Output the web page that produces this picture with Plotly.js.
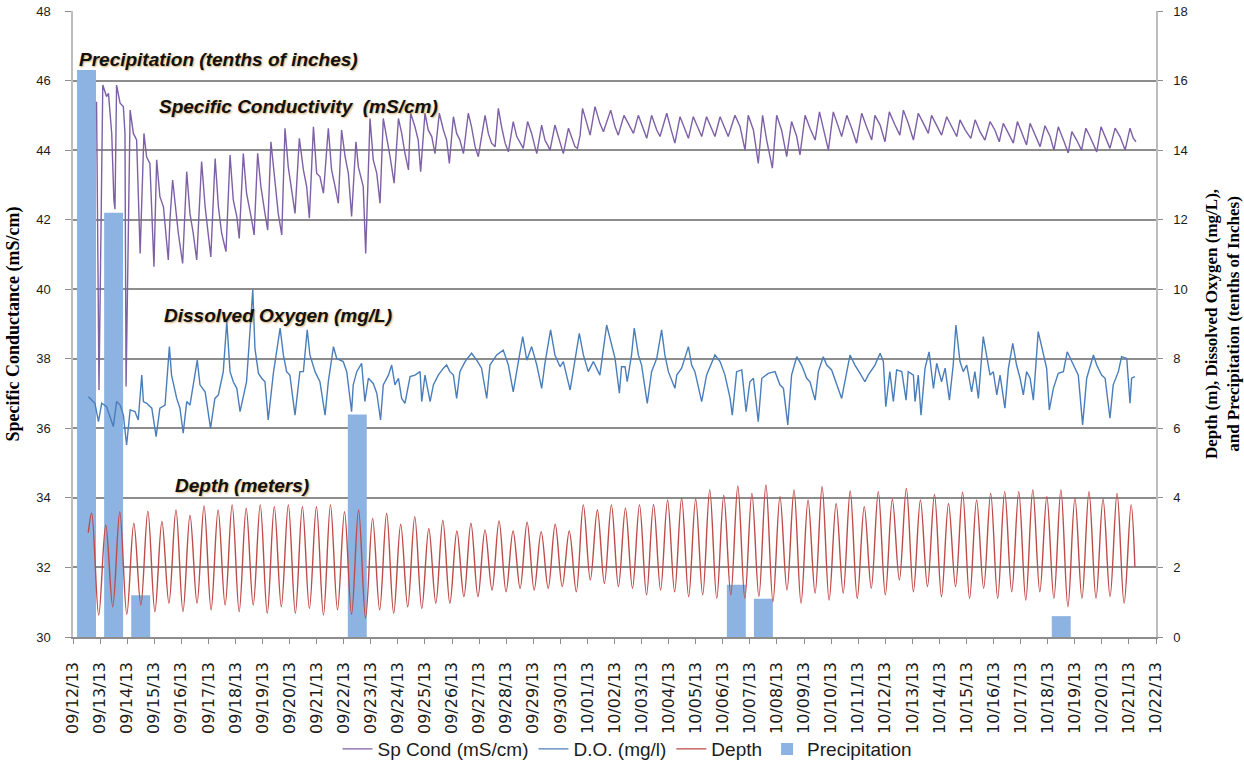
<!DOCTYPE html>
<html>
<head>
<meta charset="utf-8">
<script src="https://cdn.plot.ly/plotly-3.0.1.min.js"></script>
<style>
html,body{margin:0;padding:0;background:#ffffff;}
#chart{width:1244px;height:761px;}
</style>
</head>
<body>
<div id="chart"></div>
<script>
// ---------------- DATA ----------------
// Time origin of the record: 09/12/13 00:00; positions are given in days from it.
const recordStart = Date.UTC(2013, 8, 12);
const msPerDay = 86400000;
const axisDays = 40; // 09/12/13 .. 10/22/13

// Precipitation (tenths of inches), daily totals (plotted at noon of the day)
const precipDay = [0.5, 1.5, 2.5, 10.5, 24.5, 25.5, 36.5];
const precipVal = [16.3, 12.2, 1.2, 6.4, 1.5, 1.1, 0.6];

// Specific conductance (mS/cm) - left axis
const spDay = [
 0.87,0.91,0.96,1.10,1.24,1.31,1.43,1.51,1.55,1.61,
 1.74,1.86,1.92,1.96,2.11,2.23,2.35,2.48,2.62,2.72,
 2.84,2.99,3.09,3.21,3.34,3.52,3.58,3.68,3.77,3.89,
 4.05,4.20,4.32,4.44,4.57,4.75,4.88,5.00,5.09,5.25,
 5.37,5.49,5.65,5.80,5.92,6.05,6.14,6.29,6.41,6.60,
 6.69,6.82,6.94,7.09,7.19,7.31,7.44,7.58,7.71,7.83,
 7.95,8.11,8.20,8.36,8.51,8.63,8.73,8.88,9.00,9.12,
 9.25,9.43,9.55,9.68,9.80,9.92,10.05,10.17,10.29,10.45,
 10.54,10.72,10.81,10.97,11.09,11.22,11.34,11.46,11.59,11.71,
 11.86,12.02,12.14,12.26,12.39,12.47,12.63,12.75,12.84,13.00,
 13.12,13.25,13.37,13.53,13.68,13.80,13.90,14.05,14.17,14.29,
 14.42,14.60,14.72,14.85,14.97,15.22,15.34,15.46,15.59,15.71,
 15.83,15.96,16.08,16.26,16.39,16.51,16.63,16.79,16.94,17.06,
 17.13,17.31,17.43,17.56,17.62,17.80,17.93,18.05,18.11,18.30,
 18.42,18.54,18.63,18.73,18.82,18.97,19.10,19.28,19.46,19.59,
 19.86,20.02,20.14,20.35,20.57,20.70,20.88,21.07,21.19,21.37,
 21.56,21.68,21.93,22.11,22.23,22.42,22.60,22.73,22.91,23.10,
 23.22,23.40,23.59,23.71,23.90,24.08,24.20,24.45,24.64,24.82,
 24.94,25.13,25.31,25.47,25.62,25.83,25.99,26.17,26.36,26.54,
 26.73,26.85,27.04,27.22,27.41,27.57,27.71,27.90,28.08,28.27,
 28.39,28.58,28.76,28.94,29.13,29.31,29.50,29.62,29.81,29.99,
 30.15,30.36,30.54,30.67,30.85,31.04,31.22,31.41,31.59,31.71,
 31.90,32.08,32.27,32.45,32.64,32.76,32.95,33.16,33.32,33.50,
 33.68,33.87,34.05,34.21,34.36,34.55,34.73,34.88,35.04,35.22,
 35.35,35.53,35.72,35.90,36.09,36.23,36.39,36.58,36.76,36.89,
 37.07,37.25,37.41,37.56,37.81,37.97,38.12,38.30,38.49,38.67,
 38.86,39.04,39.16,39.26
];
const spCond = [
 45.39,42.28,37.1,45.87,45.54,45.63,44.48,42.57,42.3,45.87,
 45.35,45.25,44.48,37.2,45.15,44.48,44.29,41.03,44.48,43.8,
 43.62,40.65,43.72,42.66,42.37,40.84,41.99,43.14,42.47,41.61,
 40.74,43.38,42.18,41.61,40.84,43.67,42.37,41.61,40.93,43.76,
 42.37,41.61,41.08,43.86,42.57,42.09,41.46,43.9,42.76,41.99,
 41.56,43.91,42.95,42.18,41.7,44.24,43.14,42.18,41.56,44.63,
 43.52,42.57,42.18,44.34,43.43,42.95,42.04,44.67,43.33,43.24,
 42.76,44.63,43.43,42.95,42.47,44.58,43.81,43.33,42.09,44.24,
 43.52,42.95,41.03,44.91,43.72,43.33,42.47,44.91,44.39,43.81,
 43.05,44.91,44.48,43.91,43.43,45.06,44.67,44.29,43.38,45.06,
 44.58,44.39,43.9,45.06,44.58,44.29,43.62,44.96,44.48,44.29,
 43.9,45.06,44.67,44.1,43.81,45.0,44.48,44.2,44.1,45.2,
 44.67,44.2,43.95,44.82,44.39,44.2,44.05,44.82,44.48,44.1,
 43.9,44.72,44.29,44.1,44.0,44.72,44.39,44.05,43.9,44.63,
 44.39,44.1,44.05,44.43,45.2,44.77,44.43,45.25,44.77,44.53,
 45.15,44.67,44.43,45.0,44.67,44.48,45.0,44.62,44.34,45.0,
 44.58,44.39,45.06,44.53,44.2,44.96,44.58,44.34,44.96,44.58,
 44.39,44.96,44.62,44.39,44.96,44.62,44.39,45.0,44.67,44.0,
 45.0,44.58,43.62,45.0,44.29,43.48,45.0,44.58,43.81,44.82,
 44.39,43.86,45.0,44.63,44.29,45.1,44.63,44.0,45.1,44.67,
 44.39,45.0,44.63,44.2,45.06,44.67,44.29,45.0,44.72,44.24,
 45.1,44.72,44.43,45.15,44.77,44.29,45.06,44.77,44.48,45.0,
 44.72,44.43,44.96,44.67,44.39,44.87,44.58,44.34,44.87,44.53,
 44.29,44.82,44.58,44.24,44.77,44.48,44.2,44.82,44.48,44.15,
 44.77,44.43,44.1,44.7,44.39,44.0,44.67,44.29,43.92,44.53,
 44.29,44.0,44.63,44.39,43.95,44.67,44.39,44.05,44.63,44.39,
 44.0,44.63,44.34,44.24
];

// Dissolved oxygen (mg/L) - right axis
const doDay = [
 0.57,0.81,0.94,1.06,1.24,1.37,1.49,1.61,1.74,1.86,
 1.98,2.11,2.29,2.41,2.54,2.60,2.72,2.91,3.07,3.21,
 3.40,3.56,3.64,3.83,3.95,4.07,4.20,4.32,4.59,4.69,
 4.88,5.08,5.24,5.37,5.55,5.68,5.80,5.92,6.05,6.17,
 6.41,6.64,6.72,6.85,6.97,7.09,7.21,7.40,7.65,7.77,
 7.89,8.01,8.20,8.38,8.51,8.65,8.75,8.94,9.12,9.31,
 9.43,9.62,9.74,9.98,10.11,10.29,10.35,10.48,10.66,10.78,
 10.91,11.09,11.22,11.36,11.46,11.65,11.77,11.89,12.02,12.14,
 12.26,12.45,12.63,12.82,12.88,13.00,13.19,13.31,13.49,13.68,
 13.80,13.92,14.05,14.17,14.29,14.48,14.72,14.91,15.09,15.28,
 15.40,15.65,15.89,16.08,16.26,16.45,16.61,16.76,16.94,17.13,
 17.31,17.43,17.64,17.80,17.99,18.11,18.36,18.54,18.70,18.85,
 19.03,19.22,19.46,19.71,19.90,20.02,20.18,20.26,20.39,20.47,
 20.63,20.73,20.88,21.00,21.21,21.37,21.56,21.74,21.86,21.99,
 22.23,22.30,22.48,22.73,22.85,22.97,23.22,23.40,23.71,23.90,
 24.08,24.27,24.35,24.51,24.70,24.86,25.00,25.13,25.31,25.44,
 25.68,25.93,26.11,26.24,26.40,26.54,26.73,26.91,27.10,27.22,
 27.41,27.53,27.71,27.84,28.02,28.21,28.39,28.70,28.88,29.07,
 29.25,29.37,29.62,29.81,29.93,30.02,30.17,30.30,30.42,30.61,
 30.77,30.85,31.04,31.10,31.22,31.32,31.47,31.62,31.78,31.90,
 32.08,32.21,32.37,32.51,32.61,32.76,32.88,33.01,33.19,33.31,
 33.44,33.62,33.75,33.87,33.99,34.12,34.24,34.42,34.55,34.71,
 34.85,34.98,35.10,35.22,35.35,35.47,35.65,35.84,35.96,36.06,
 36.21,36.39,36.58,36.72,36.89,37.01,37.13,37.29,37.44,37.69,
 37.81,37.99,38.12,38.30,38.42,38.61,38.73,38.92,39.04,39.10,
 39.22
];
const doVal = [
 6.91,6.72,6.19,6.72,6.62,6.29,6.05,6.77,6.67,6.38,
 5.52,6.53,6.48,6.24,7.53,6.77,6.72,6.58,5.76,6.58,
 6.67,8.35,7.53,6.86,6.58,5.86,6.77,6.67,7.96,7.25,
 7.05,6.0,6.86,6.96,7.63,9.07,7.63,7.34,7.15,6.48,
 7.34,9.98,8.30,7.58,7.44,7.34,6.24,7.58,8.88,8.11,
 7.63,7.53,6.38,7.63,7.63,8.83,8.11,7.63,7.34,6.38,
 7.34,8.35,8.01,7.92,7.63,6.48,7.25,7.63,7.87,6.77,
 7.44,7.29,7.01,6.24,7.25,7.53,7.82,7.25,7.44,6.86,
 6.72,7.49,7.53,7.63,6.77,7.53,6.77,7.25,7.53,7.73,
 7.82,7.63,7.53,6.86,7.63,7.92,8.16,7.96,7.73,6.86,
 7.82,8.11,8.25,7.82,7.05,7.92,8.64,7.96,8.35,7.82,
 7.15,7.87,8.83,8.11,7.77,7.92,7.10,7.96,8.73,8.11,
 7.63,7.92,7.53,8.97,8.35,8.01,7.01,7.77,7.77,7.34,
 8.11,8.88,8.11,7.82,6.72,7.63,8.01,8.83,8.11,7.63,
 7.15,7.53,7.73,8.35,7.82,7.63,6.77,7.53,8.11,7.92,
 7.53,6.86,6.38,7.63,7.68,6.48,7.34,7.44,6.19,7.44,
 7.58,7.63,7.25,7.15,6.10,7.53,8.06,7.82,7.44,7.34,
 6.81,7.63,8.06,7.82,7.68,7.25,6.86,8.11,7.82,7.58,
 7.34,7.53,7.82,8.16,7.92,6.62,7.63,6.77,7.68,7.63,
 6.81,7.63,7.53,6.77,7.53,6.38,7.73,8.20,7.15,7.87,
 7.34,7.73,6.81,7.82,8.97,7.92,7.63,7.82,7.05,7.63,
 6.86,8.64,8.01,7.53,7.63,6.96,7.53,6.58,7.73,8.44,
 7.82,7.44,6.96,7.63,7.44,6.81,8.78,8.16,7.73,6.53,
 7.15,7.58,7.63,8.20,7.92,7.68,7.53,6.10,7.44,8.11,
 7.82,7.53,7.44,6.29,7.25,7.63,8.06,8.01,6.72,7.44,
 7.49
];

// Depth (m) - right axis: successive tidal highs and lows
const depthFirstDay = 0.565, depthFirst = 3.00;   // first logged reading
const depthLastDay = 39.22, depthLast = 2.02;     // last logged reading
const depthFirstHighDay = 0.69;                   // time of the first high
const depthHalfTideDays = 0.2594;                 // high-to-low interval (~6.2 h)
const depthHigh = [
 3.56,3.22,3.60,3.27,3.62,3.32,3.65,3.50,3.77,3.65,
 3.80,3.70,3.80,3.75,3.80,3.75,3.75,3.80,3.60,3.65,
 3.41,3.56,3.24,3.46,3.12,3.36,3.05,3.27,3.08,3.34,
 3.05,3.30,3.03,3.24,3.05,3.80,3.65,3.80,3.70,3.80,
 3.81,3.94,3.99,3.97,4.23,4.08,4.34,4.13,4.37,4.04,
 4.23,3.94,4.32,3.84,4.20,3.75,4.18,3.96,4.27,3.94,
 4.10,3.84,4.16,3.94,4.13,4.18,4.18,4.23,4.04,4.23,
 4.00,4.18,3.97,4.13,3.80
];
const depthLow = [
 0.63,0.87,0.65,0.92,0.73,0.97,0.73,0.97,0.78,0.92,
 0.73,0.92,0.68,0.87,0.68,0.82,0.63,0.78,0.65,0.54,
 0.78,0.68,0.87,0.82,0.97,0.97,1.16,1.16,1.35,1.30,
 1.40,1.35,1.40,1.45,1.30,1.64,1.54,1.45,1.40,1.21,
 1.35,1.30,1.16,1.21,1.11,1.21,1.11,1.16,1.02,1.35,
 0.97,1.26,1.06,1.26,1.11,1.40,1.21,1.64,1.30,1.45,
 1.16,1.45,1.11,1.40,1.11,1.30,1.06,1.30,1.11,0.87,
 1.11,1.11,1.16,0.97
];

const seriesNames = ['Sp Cond (mS/cm)', 'D.O. (mg/l)', 'Depth', 'Precipitation'];

// ---------------- BUILD ----------------
const toTime = d => recordStart + d * msPerDay;

const depthX = [toTime(depthFirstDay)];
const depthY = [depthFirst];
for (let i = 0; i < depthHigh.length; i++) {
  const tHigh = depthFirstHighDay + 2 * i * depthHalfTideDays;
  depthX.push(toTime(tHigh)); depthY.push(depthHigh[i]);
  if (i < depthLow.length) {
    depthX.push(toTime(tHigh + depthHalfTideDays)); depthY.push(depthLow[i]);
  }
}
depthX.push(toTime(depthLastDay)); depthY.push(depthLast);

const gridGray = '#8d8d8d';
const axisGray = '#bdbdbd';
const textColor = '#1c1c1c';

const traces = [
  {
    name: seriesNames[0], type: 'scatter', mode: 'lines',
    x: spDay.map(toTime), y: spCond, yaxis: 'y2',
    line: {color: '#7e60a6', width: 1.4},
    legendrank: 1
  },
  {
    name: seriesNames[1], type: 'scatter', mode: 'lines',
    x: doDay.map(toTime), y: doVal, yaxis: 'y',
    line: {color: '#4a7ebb', width: 1.4},
    legendrank: 2
  },
  {
    name: seriesNames[2], type: 'scatter', mode: 'lines',
    x: depthX, y: depthY, yaxis: 'y',
    line: {color: '#be4b48', width: 1.4, shape: 'spline', smoothing: 1},
    legendrank: 3
  },
  {
    name: seriesNames[3], type: 'bar',
    x: precipDay.map(toTime), y: precipVal, yaxis: 'y',
    width: 0.7 * msPerDay,
    marker: {color: '#8db3e2', line: {width: 0}},
    legendrank: 4
  }
];

const annFont = {family: 'Liberation Sans, Arial, sans-serif', size: 19, color: '#111111',
                 shadow: '1px 1px 2px rgba(196,140,60,0.75)'};
const ann = (text, px, py) => ({
  text: '<b><i>' + text + '</i></b>', xref: 'paper', yref: 'paper',
  x: px, y: py, xanchor: 'left', yanchor: 'middle', showarrow: false, font: annFont
});

const layout = {
  width: 1244, height: 761,
  margin: {l: 73, r: 88, t: 11, b: 124, pad: 0, autoexpand: false},
  paper_bgcolor: '#ffffff', plot_bgcolor: '#ffffff',
  font: {family: 'Liberation Sans, Arial, sans-serif', color: textColor},
  showlegend: true,
  legend: {
    orientation: 'h', x: 0.512, xanchor: 'center', y: -0.179, yanchor: 'middle',
    font: {family: 'Liberation Sans, Arial, sans-serif', size: 19, color: textColor},
    traceorder: 'normal', bgcolor: 'rgba(0,0,0,0)'
  },
  xaxis: {
    type: 'date',
    range: [recordStart, recordStart + axisDays * msPerDay],
    tick0: recordStart, dtick: msPerDay, tickformat: '%m/%d/%y',
    tickangle: -90, ticks: 'outside', ticklen: 5, tickcolor: gridGray, tickwidth: 1,
    ticklabelstandoff: 12,
    tickfont: {family: 'DejaVu Sans, sans-serif', size: 16, color: textColor},
    showgrid: false, zeroline: false, showline: true, linecolor: gridGray, linewidth: 1.5
  },
  yaxis: {
    side: 'right', range: [0, 18], tick0: 0, dtick: 2,
    showgrid: true, gridcolor: gridGray, gridwidth: 1.5, zeroline: false,
    showline: true, linecolor: axisGray, linewidth: 1.5,
    ticks: 'outside', ticklen: 5, tickcolor: gridGray,
    ticklabelstandoff: 8,
    tickfont: {family: 'Liberation Sans, Arial, sans-serif', size: 13, color: textColor},
    title: {
      text: 'Depth (m), Dissolved Oxygen (mg/L),<br>and Precipitation (tenths of Inches)',
      font: {family: 'Liberation Serif, Times New Roman, serif', size: 17, color: '#000000', weight: 'bold'},
      standoff: 18
    }
  },
  yaxis2: {
    overlaying: 'y', side: 'left', range: [30, 48], tick0: 30, dtick: 2,
    showgrid: false, zeroline: false,
    showline: true, linecolor: axisGray, linewidth: 1.5,
    ticks: 'outside', ticklen: 6, tickcolor: gridGray,
    ticklabelstandoff: 12,
    tickfont: {family: 'Liberation Sans, Arial, sans-serif', size: 13, color: textColor},
    title: {
      text: 'Specific Conductance (mS/cm)',
      font: {family: 'Liberation Serif, Times New Roman, serif', size: 18, color: '#000000', weight: 'bold'},
      standoff: 12
    }
  },
  annotations: [
    ann('Precipitation (tenths of inches)', 0.0037, 0.922),
    ann('Specific Conductivity&nbsp;&nbsp;(mS/cm)', 0.0776, 0.848),
    ann('Dissolved Oxygen (mg/L)', 0.0822, 0.5128),
    ann('Depth (meters)', 0.0923, 0.2428)
  ]
};

Plotly.newPlot('chart', traces, layout, {displayModeBar: false, responsive: false});
</script>
</body>
</html>
